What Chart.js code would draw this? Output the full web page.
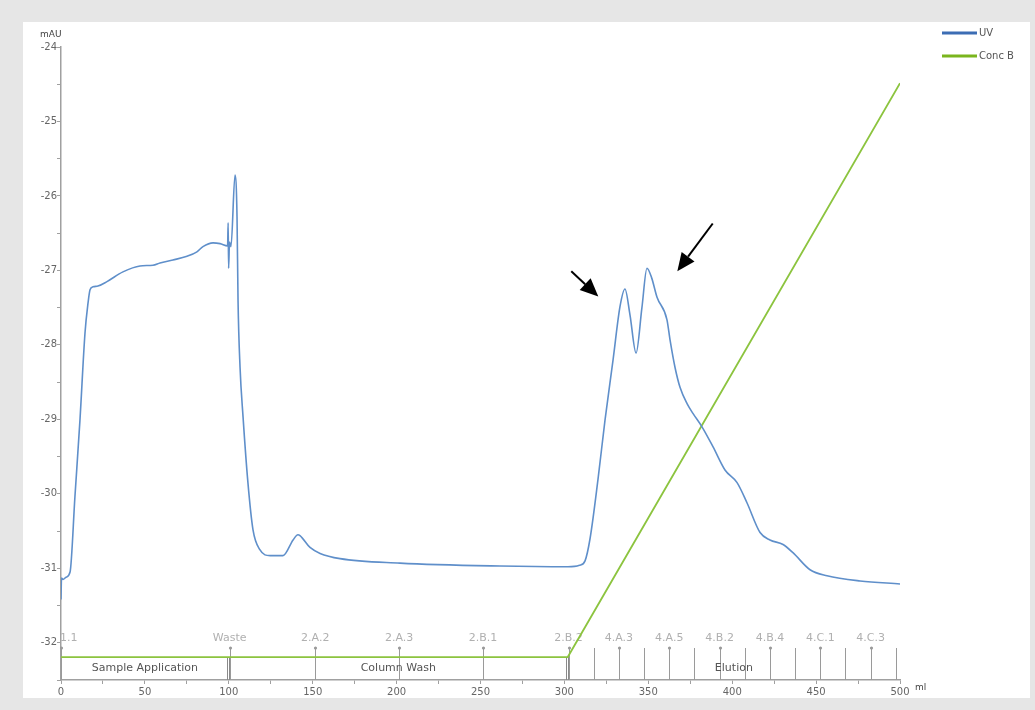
<!DOCTYPE html>
<html>
<head>
<meta charset="utf-8">
<script src="https://cdn.jsdelivr.net/npm/chart.js@4.4.1/dist/chart.umd.min.js"></script>
<style>
  html, body { margin: 0; padding: 0; background: #e6e6e6; overflow: hidden; }
  canvas { display: block; }
</style>
</head>
<body>
<canvas id="chart" width="1035" height="710"></canvas>
<script>
// UV trace (ml, mAU)
const uvVolume = [0, 0.3, 1.2, 3.0, 5.4, 8.3, 11.3, 14.3, 16.1, 17.3, 19.1, 22.0, 27.4, 36.9, 47.1, 54.8, 59.0, 66.7, 75.1, 81.0, 84.6, 90.6, 94.8, 99.3, 99.6, 99.9, 100.4, 101.3, 103.7, 104.9, 105.5, 106.7, 108.5, 111.4, 114.4, 118.5, 124.6, 132.3, 138.3, 141.2, 142.4, 148.4, 154.4, 166.3, 202, 261.6, 302.1, 309, 312.3, 315.3, 320, 324.2, 329, 333.1, 336.1, 339.1, 342.7, 346.2, 349.2, 352, 355.2, 361.1, 363, 365.9, 368.9, 373.1, 376.6, 382, 388.6, 395.7, 402.9, 408.8, 416.6, 422.5, 430.3, 436.2, 446.4, 456.5, 476.2, 500]
const uvAbsorbance = [-31.42, -31.13, -31.15, -31.12, -31.05, -30.04, -29.01, -27.84, -27.44, -27.26, -27.22, -27.21, -27.15, -27.02, -26.94, -26.93, -26.90, -26.86, -26.81, -26.75, -26.68, -26.63, -26.64, -26.67, -26.36, -26.97, -26.62, -26.68, -25.72, -26.28, -27.40, -28.30, -28.97, -29.85, -30.48, -30.75, -30.83, -30.83, -30.62, -30.55, -30.56, -30.72, -30.80, -30.87, -30.93, -30.97, -30.98, -30.96, -30.90, -30.60, -29.81, -29.01, -28.20, -27.49, -27.25, -27.60, -28.11, -27.50, -26.97, -27.10, -27.36, -27.66, -27.94, -28.30, -28.57, -28.79, -28.92, -29.10, -29.37, -29.68, -29.85, -30.12, -30.52, -30.62, -30.68, -30.79, -31.02, -31.10, -31.17, -31.21]

// Conc B gradient (ml, %B)
const concVolume = [0, 302, 500]
const concB = [0, 0, 100]

// fractions and phases
const fractionVolume = [0, 100.5, 151.5, 201.5, 251.5, 302.5, 332.5, 362.5, 392.5, 422.5, 452.5, 482.5]
const fractionLabels = ['1.1', 'Waste', '2.A.2', '2.A.3', '2.B.1', '2.B.2', '4.A.3', '4.A.5', '4.B.2', '4.B.4', '4.C.1', '4.C.3']
const tubeVolume = [317.5, 347.5, 377.5, 407.5, 437.5, 467.5, 497.5]
const phaseStart = [0, 100, 302]
const phaseEnd = [100, 302, 500]
const phaseNames = ['Sample Application', 'Column Wash', 'Elution']

// arrows pointing at the two peaks (ml, mAU)
const arrows = [
  { from: [304.1, -27.01], to: [320.2, -27.35] },
  { from: [388.4, -26.37], to: [367.3, -27.01] },
]

const uvColor = '#5f8fca'
const concColor = '#8cc43f'
const font = '"DejaVu Sans", Verdana, sans-serif'

const background = {
  id: 'background',
  beforeDraw(chart) {
    const ctx = chart.ctx
    ctx.save()
    ctx.fillStyle = '#e6e6e6'
    ctx.fillRect(0, 0, chart.width, chart.height)
    ctx.fillStyle = '#ffffff'
    ctx.fillRect(23, 22, 1007, 676)
    ctx.restore()
  }
}

const fractions = {
  id: 'fractions',
  beforeDatasetsDraw(chart) {
    const { ctx, chartArea } = chart
    const x = chart.scales.x
    const y2 = chart.scales.y2
    const bottom = chartArea.bottom
    const top = bottom - 32
    const phaseTop = y2.getPixelForValue(0)
    ctx.save()
    ctx.strokeStyle = '#9a9a9a'
    ctx.fillStyle = '#9a9a9a'
    ctx.lineWidth = 1
    // labelled fractions
    fractionVolume.forEach((v, i) => {
      const px = Math.round(x.getPixelForValue(v)) + 0.5
      ctx.beginPath()
      ctx.moveTo(px, top)
      ctx.lineTo(px, bottom)
      ctx.stroke()
      ctx.beginPath()
      ctx.arc(px, top, 1.6, 0, Math.PI * 2)
      ctx.fill()
    })
    tubeVolume.forEach(v => {
      const px = Math.round(x.getPixelForValue(v)) + 0.5
      ctx.beginPath()
      ctx.moveTo(px, top)
      ctx.lineTo(px, bottom)
      ctx.stroke()
    })
    // phase boundaries
    ctx.strokeStyle = '#8a8a8a'
    ctx.lineWidth = 1
    phaseStart.slice(1).forEach(v => {
      const px = Math.round(x.getPixelForValue(v)) - 1.5
      ctx.beginPath()
      ctx.moveTo(px, phaseTop)
      ctx.lineTo(px, bottom)
      ctx.moveTo(px + 2, phaseTop)
      ctx.lineTo(px + 2, bottom)
      ctx.stroke()
    })
    // labels
    ctx.font = '11px ' + font
    ctx.textBaseline = 'middle'
    ctx.fillStyle = '#b0b0b0'
    fractionVolume.forEach((v, i) => {
      let px = x.getPixelForValue(v)
      ctx.textAlign = 'center'
      if (i === 0) { ctx.textAlign = 'left'; px -= 1 }
      ctx.fillText(fractionLabels[i], px, top - 10)
    })
    ctx.fillStyle = '#555555'
    ctx.font = '11px ' + font
    ctx.textAlign = 'center'
    phaseNames.forEach((name, i) => {
      const px = x.getPixelForValue((phaseStart[i] + phaseEnd[i]) / 2)
      ctx.fillText(name, px, bottom - 12)
    })
    ctx.restore()
  }
}

const overlay = {
  id: 'overlay',
  afterDatasetsDraw(chart) {
    const { ctx, chartArea } = chart
    const x = chart.scales.x
    const y = chart.scales.y
    ctx.save()
    // arrows
    ctx.strokeStyle = '#000'
    ctx.fillStyle = '#000'
    ctx.lineWidth = 2
    arrows.forEach(a => {
      const x0 = x.getPixelForValue(a.from[0]), y0 = y.getPixelForValue(a.from[1])
      const x1 = x.getPixelForValue(a.to[0]), y1 = y.getPixelForValue(a.to[1])
      const ang = Math.atan2(y1 - y0, x1 - x0)
      const len = 18, half = 8
      const bx = x1 - len * Math.cos(ang), by = y1 - len * Math.sin(ang)
      ctx.beginPath()
      ctx.moveTo(x0, y0)
      ctx.lineTo(bx, by)
      ctx.stroke()
      ctx.beginPath()
      ctx.moveTo(x1, y1)
      ctx.lineTo(bx + half * Math.sin(ang), by - half * Math.cos(ang))
      ctx.lineTo(bx - half * Math.sin(ang), by + half * Math.cos(ang))
      ctx.closePath()
      ctx.fill()
    })
    // axis units
    ctx.fillStyle = '#444'
    ctx.font = '9px ' + font
    ctx.textAlign = 'left'
    ctx.textBaseline = 'middle'
    ctx.fillText('mAU', 40, 35)
    ctx.fillText('ml', chartArea.right + 15, chartArea.bottom + 8)
    // legend
    const items = [['UV', '#3c6db4'], ['Conc B', '#7ab51d']]
    ctx.font = '10px ' + font
    ctx.lineWidth = 3
    items.forEach(([label, color], i) => {
      const ly = 33 + i * 23
      ctx.strokeStyle = color
      ctx.beginPath()
      ctx.moveTo(942, ly)
      ctx.lineTo(977, ly)
      ctx.stroke()
      ctx.fillStyle = '#555'
      ctx.fillText(label, 979, ly)
    })
    ctx.restore()
  }
}

const ctx = document.getElementById('chart')
new Chart(ctx, {
  type: 'line',
  data: {
    datasets: [
      {
        label: 'UV',
        data: uvVolume.map((v, i) => ({ x: v, y: uvAbsorbance[i] })),
        borderColor: uvColor,
        borderWidth: 1.6,
        pointRadius: 0,
        cubicInterpolationMode: 'monotone',
        yAxisID: 'y',
      },
      {
        label: 'Conc B',
        data: concVolume.map((v, i) => ({ x: v, y: concB[i] })),
        borderColor: concColor,
        borderWidth: 1.8,
        pointRadius: 0,
        tension: 0,
        yAxisID: 'y2',
      }
    ]
  },
  options: {
    responsive: false,
    animation: false,
    layout: { padding: { left: 0, top: 47, right: 135, bottom: 0 } },
    plugins: {
      legend: { display: false },
      tooltip: { enabled: false },
    },
    scales: {
      x: {
        type: 'linear',
        min: 0,
        max: 500,
        afterFit: s => { s.height = 30 },
        border: { color: '#a0a0a0', width: 1.5 },
        grid: { drawOnChartArea: false, tickLength: 4, color: '#a0a0a0' },
        ticks: {
          stepSize: 25,
          autoSkip: false,
          maxRotation: 0,
          padding: 2,
          color: '#666',
          font: { family: font, size: 10 },
          callback: v => (v % 50 === 0 ? v : ''),
        },
      },
      y: {
        min: -32.5,
        max: -24,
        afterFit: s => { s.width = 61 },
        border: { color: '#a0a0a0', width: 1.5 },
        grid: { drawOnChartArea: false, tickLength: 4, color: '#a0a0a0' },
        ticks: {
          stepSize: 0.5,
          autoSkip: false,
          padding: 0,
          color: '#666',
          font: { family: font, size: 10 },
          callback: v => (Number.isInteger(v) ? v : ''),
        },
      },
      y2: {
        display: false,
        min: -4.0,
        max: 106.3,
      },
    },
  },
  plugins: [background, fractions, overlay],
})
</script>
</body>
</html>
